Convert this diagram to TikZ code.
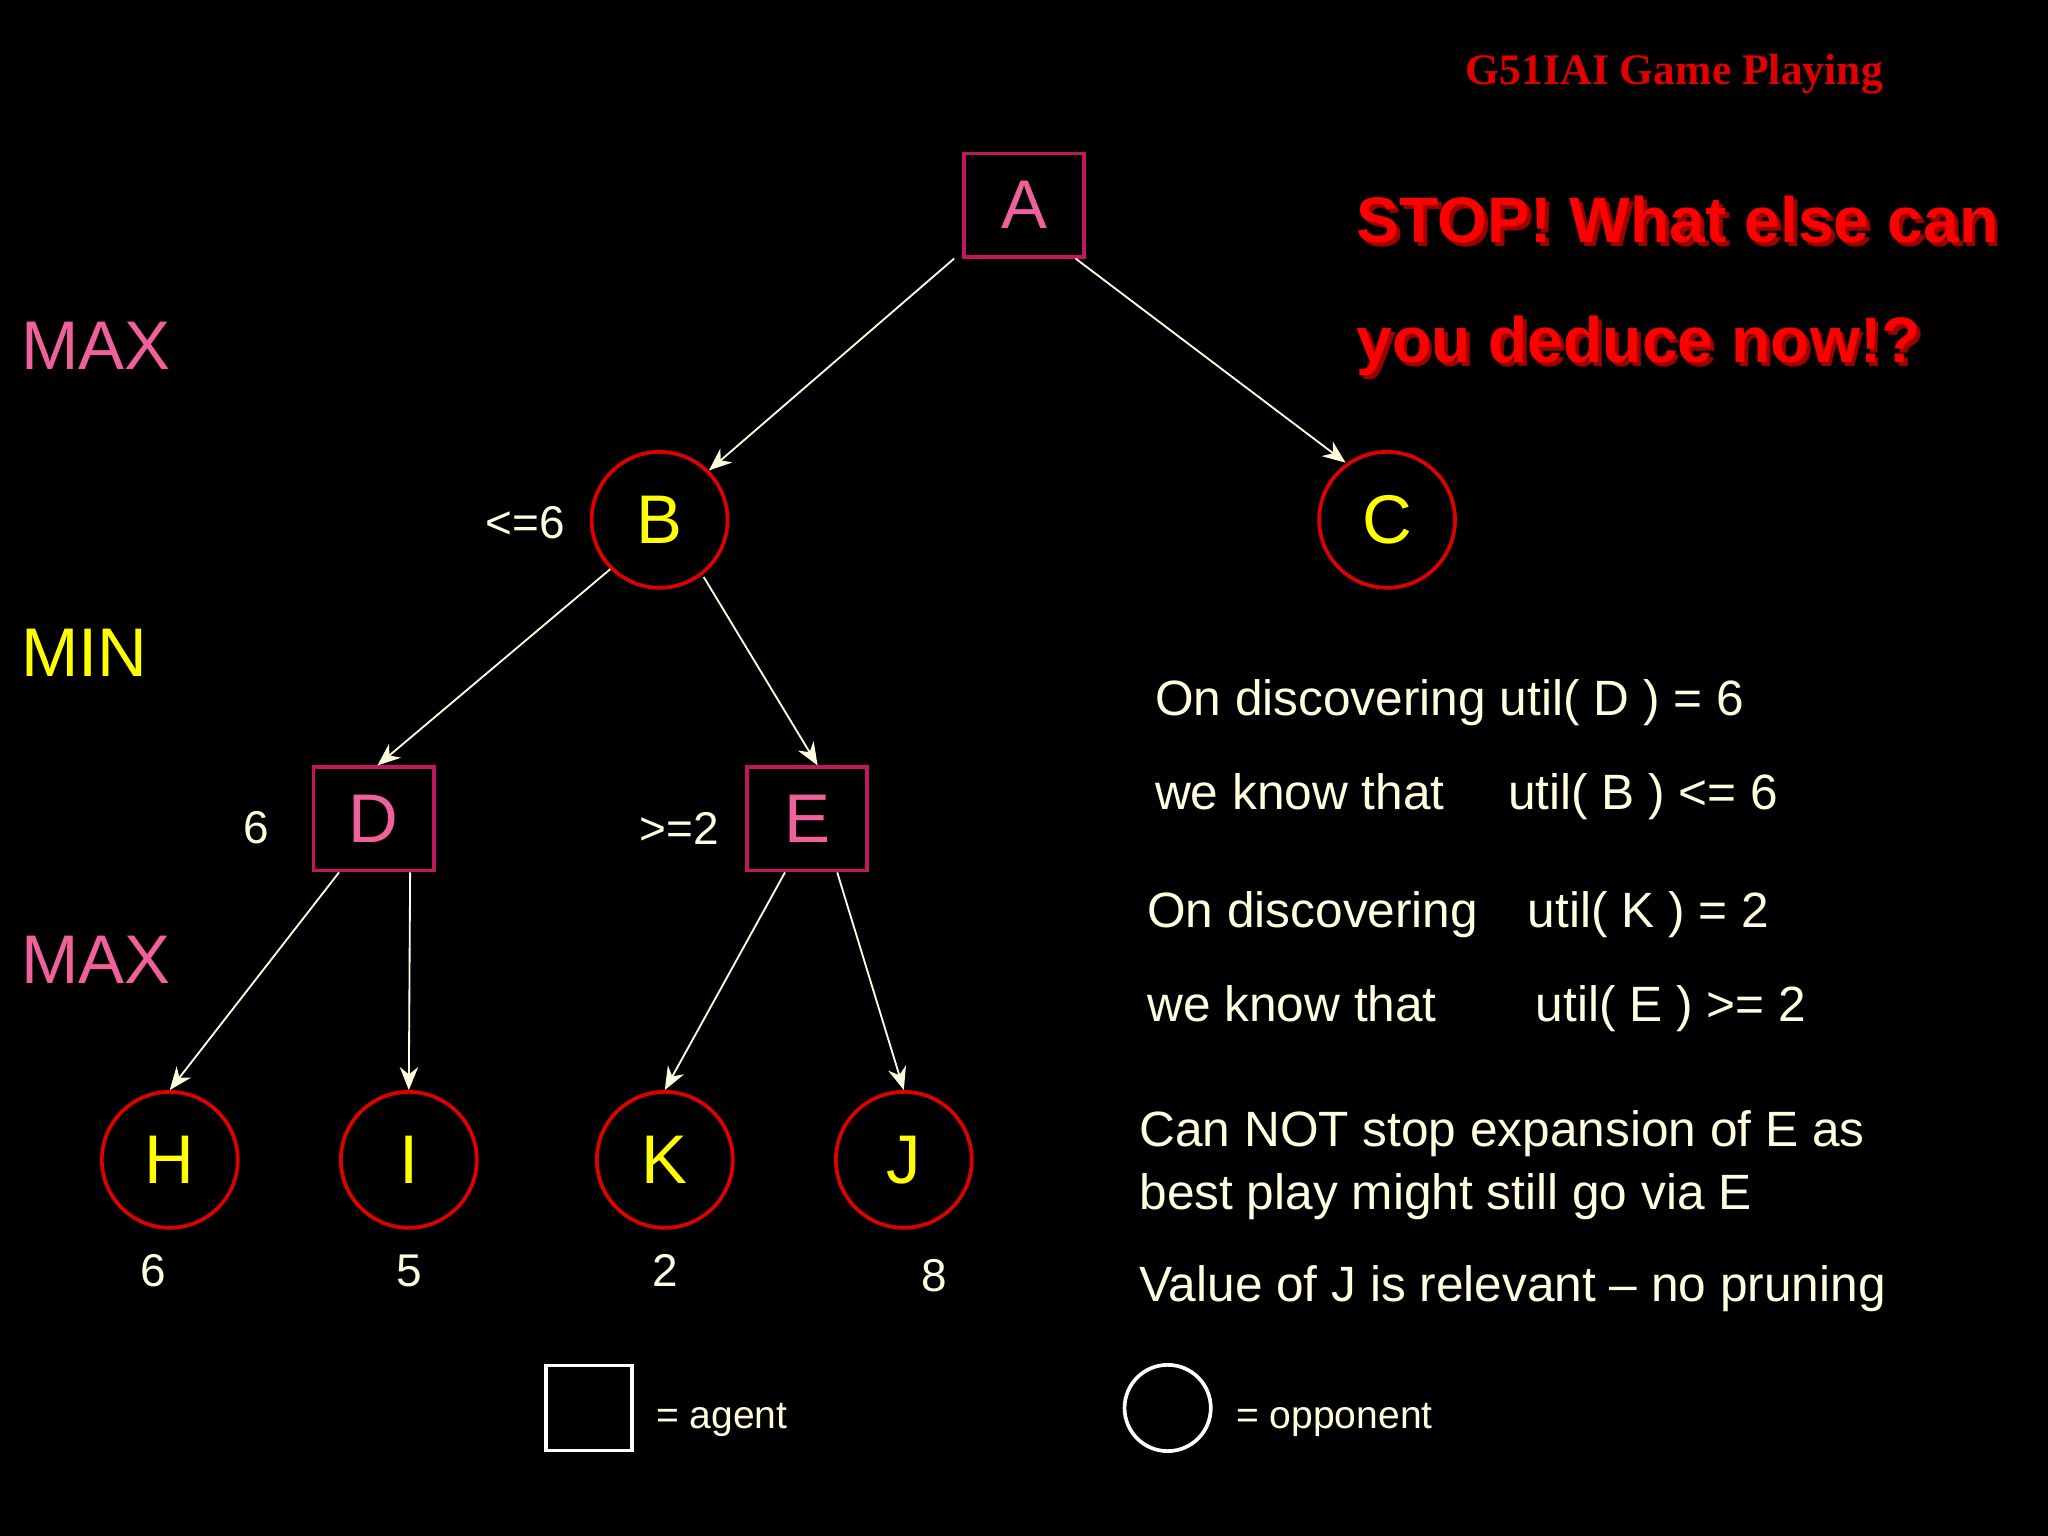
\documentclass[tikz,border=0pt]{standalone}
\usepackage{fontspec}
\setmainfont{Liberation Sans}
\newfontfamily\serifb{Liberation Serif}
\usetikzlibrary{arrows.meta}
\definecolor{pk}{HTML}{F0609A}
\definecolor{yl}{HTML}{FFFF00}
\definecolor{cr}{HTML}{FFFFE0}
\definecolor{sqc}{HTML}{C01860}
\definecolor{rd}{HTML}{E00000}
\begin{document}
\begin{tikzpicture}[x=0.01cm,y=-0.01cm,
  sq/.style={draw=sqc,line width=0.8pt,minimum width=0.92cm,minimum height=0.79cm,inner sep=0pt,text=pk,font=\fontsize{15}{15}\selectfont},
  cir/.style={draw=rd,line width=0.8pt,circle,minimum size=1.04cm,inner sep=0pt,text=yl,font=\fontsize{15}{15}\selectfont},
  lab/.style={text=cr,font=\fontsize{10}{12}\selectfont},
  txt/.style={text=cr,font=\fontsize{10.8}{13.8}\selectfont,anchor=west,align=left},
  arr/.style={draw=cr,line width=0.4pt,-{Stealth[length=5pt,width=4pt]}},
  lev/.style={font=\fontsize{15}{15}\selectfont,anchor=west}]
\fill[black] (0,0) rectangle (1568,1176);
\node[sq] (A) at (784,157) {A};
\node[cir] (B) at (505,398) {B};
\node[cir] (C) at (1062,398) {C};
\node[sq] (D) at (286,627) {D};
\node[sq] (E) at (618,627) {E};
\node[cir] (H) at (130,888) {H};
\node[cir] (I) at (313,888) {I};
\node[cir] (K) at (509,888) {K};
\node[cir] (J) at (692,888) {J};
\draw[arr] ([shift={(-6,0)}]A.south west) -- (B.north east);
\draw[arr] ([shift={(-8,0)}]A.south east) -- ([shift={(6,-6)}]C.north west);
\draw[arr] (B.south west) -- ([shift={(3,0)}]D.north);
\draw[arr] ([shift={(-4,6)}]B.south east) -- ([shift={(8,0)}]E.north);
\draw[arr] ([shift={(21,0)}]D.south west) -- (H.north);
\draw[arr] ([shift={(28,0)}]D.south) -- (I.north);
\draw[arr] ([shift={(-17,0)}]E.south) -- (K.north);
\draw[arr] ([shift={(23,0)}]E.south) -- (J.north);
\node[lab] (l1) at (402,400) {<=6};
\node[lab] (l2) at (196,634) {6};
\node[lab] (l3) at (520,634) {>=2};
\node[lab] (v1) at (117,973) {6};
\node[lab] (v2) at (313,973) {5};
\node[lab] (v3) at (509,973) {2};
\node[lab] (v4) at (715,977) {8};
\node[lev,text=pk] (m1) at (4,265) {MAX};
\node[lev,text=yl] (m2) at (4,500) {MIN};
\node[lev,text=pk] (m3) at (4,735) {MAX};
\node[text=rd,font=\serifb\bfseries\fontsize{9.5}{10}\selectfont] (t) at (1282,57) {G51IAI Game Playing};
\foreach \d/\c in {3/rd!70!black,0/red}{
\node[anchor=west,text=\c,font=\bfseries\fontsize{14}{14}\selectfont] at (1026+\d,168+\d) {STOP! What else can};
\node[anchor=west,text=\c,font=\bfseries\fontsize{14}{14}\selectfont] at (1026+\d,265+\d) {you deduce now!?};}
\node[txt] (r1) at (872,538) {On discovering util( D ) = 6};
\node[txt] (r2) at (872,610) {we know that\quad\ util( B ) <= 6};
\node[txt] (r3) at (866,700) {On discovering\quad util( K ) = 2};
\node[txt] (r4) at (866,772) {we know that\qquad util( E ) >= 2};
\node[txt] (r5) at (860,892) {Can NOT stop expansion of E as\\best play might still go via E};
\node[txt] (r6) at (860,987) {Value of J is relevant -- no pruning};
\node[draw=white,line width=0.8pt,minimum width=0.66cm,minimum height=0.65cm,inner sep=0pt] (ls) at (451,1078) {};
\node[anchor=west,text=cr,font=\fontsize{8.5}{10}\selectfont] (lt) at (490,1087) {= agent};
\node[draw=white,line width=0.8pt,circle,minimum size=0.66cm,inner sep=0pt] (lc) at (894,1078) {};
\node[anchor=west,text=cr,font=\fontsize{8.5}{10}\selectfont] (lo) at (934,1087) {= opponent};
\end{tikzpicture}
\end{document}
